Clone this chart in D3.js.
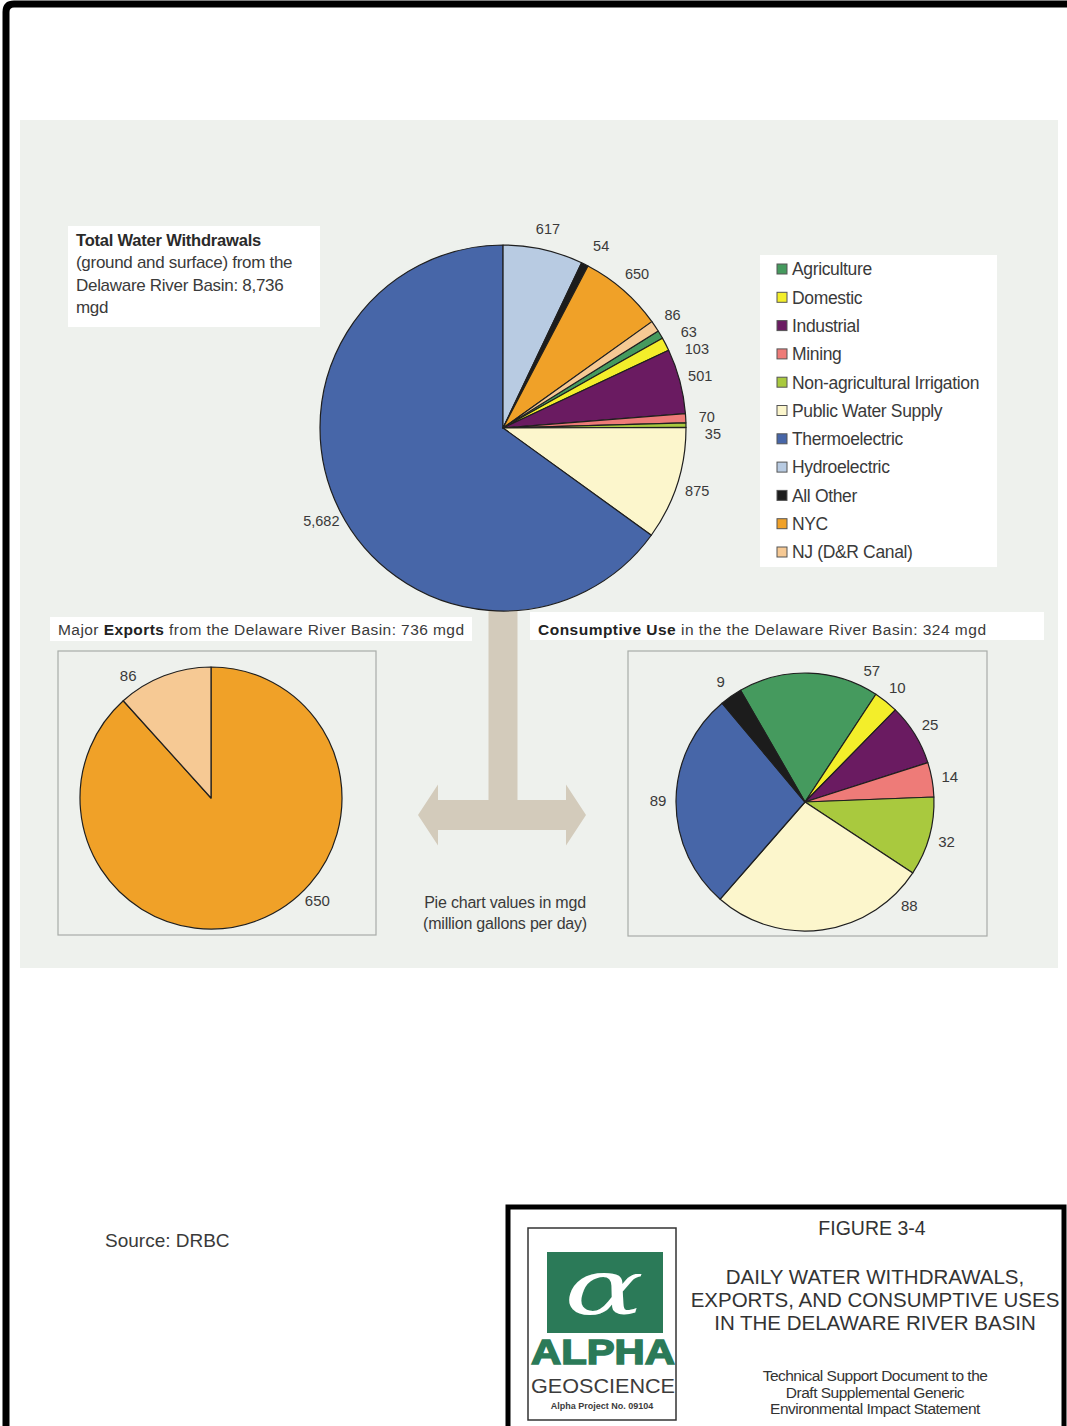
<!DOCTYPE html>
<html>
<head>
<meta charset="utf-8">
<script src="https://cdn.jsdelivr.net/npm/d3@7"></script>
<style>
  body { margin: 0; background: #fff; }
  svg { display: block; font-family: "Liberation Sans", Arial, sans-serif; }
</style>
</head>
<body>
<svg id="fig" width="1067" height="1426"></svg>
<script>
// categories in legend order (same order drives every pie)
var categories = ["Agriculture", "Domestic", "Industrial", "Mining",
  "Non-agricultural Irrigation", "Public Water Supply", "Thermoelectric",
  "Hydroelectric", "All Other", "NYC", "NJ (D&R Canal)"];
var catColors = ["#459a5e", "#f3ee2a", "#6a1b61", "#ee7b78", "#a9c93e",
  "#fcf6cc", "#4766a8", "#b8cbe2", "#1c1c1c", "#f0a128", "#f6c994"];

// mgd values
var withdrawals = [63, 103, 501, 70, 35, 875, 5682, 617, 54, 650, 86];
var exportsMgd = [0, 0, 0, 0, 0, 0, 0, 0, 0, 650, 86];
var consumptive = [57, 10, 25, 14, 32, 88, 89, 0, 9, 0, 0];

var svg = d3.select("#fig");
var fmt = d3.format(",");
var rad = Math.PI / 180;

// outer frame (top + left edges visible)
svg.append("path")
  .attr("d", "M6,1426 V12 Q6,4 14,4 H1067")
  .attr("fill", "none")
  .attr("stroke", "#000")
  .attr("stroke-width", 7);

// light panel behind the charts
svg.append("rect")
  .attr("x", 20).attr("y", 120)
  .attr("width", 1038).attr("height", 848)
  .attr("fill", "#eef1ed");

// T-shaped arrow between the charts
var ar = { cx: 503, top: 608, stem: 29, barY: 800, barH: 30, left: 418, right: 586, head: 20, headH: 61 };
var arrowPts = [
  [ar.cx - ar.stem / 2, ar.top], [ar.cx + ar.stem / 2, ar.top],
  [ar.cx + ar.stem / 2, ar.barY], [ar.right - ar.head, ar.barY],
  [ar.right - ar.head, ar.barY + ar.barH / 2 - ar.headH / 2],
  [ar.right, ar.barY + ar.barH / 2],
  [ar.right - ar.head, ar.barY + ar.barH / 2 + ar.headH / 2],
  [ar.right - ar.head, ar.barY + ar.barH], [ar.left + ar.head, ar.barY + ar.barH],
  [ar.left + ar.head, ar.barY + ar.barH / 2 + ar.headH / 2],
  [ar.left, ar.barY + ar.barH / 2],
  [ar.left + ar.head, ar.barY + ar.barH / 2 - ar.headH / 2],
  [ar.left + ar.head, ar.barY], [ar.cx - ar.stem / 2, ar.barY]
];
svg.append("path")
  .attr("d", d3.line()(arrowPts) + "Z")
  .attr("fill", "#d3cbbb");

// generic pie with outside value labels; labels slide along their slice
// to stay inside the framing box, and crowded ones are spread vertically
function drawPie(opt) {
  var data = opt.values.map(function (v, i) {
    return { cat: categories[i], value: v, color: catColors[i] };
  }).filter(function (d) { return d.value > 0; });

  var pie = d3.pie()
    .sort(null)
    .value(function (d) { return d.value; })
    .startAngle(opt.start * rad)
    .endAngle(opt.start * rad + 2 * Math.PI);

  var arc = d3.arc().innerRadius(0).outerRadius(opt.r);
  var g = svg.append("g")
    .attr("transform", "translate(" + opt.cx + "," + opt.cy + ")");

  var arcs = pie(data);
  g.selectAll("path.slice")
    .data(arcs)
    .enter()
    .append("path")
    .attr("class", "slice")
    .attr("d", arc)
    .attr("fill", function (d) { return d.data.color; })
    .attr("stroke", "#1f1f1f")
    .attr("stroke-width", 1.2)
    .attr("stroke-linejoin", "round");

  function fits(a) {
    if (!opt.box) return true;
    var y = opt.cy - opt.lr * Math.cos(a);
    return y >= opt.box.y + opt.padTop && y <= opt.box.y + opt.box.h - opt.padBottom;
  }

  // initial label spots
  arcs.forEach(function (d) {
    var mid = (d.startAngle + d.endAngle) / 2, best = mid;
    if (!fits(mid)) {
      var bestDist = Infinity;
      for (var a = d.startAngle; a <= d.endAngle; a += 0.005) {
        if (fits(a) && Math.abs(a - mid) < bestDist) { bestDist = Math.abs(a - mid); best = a; }
      }
    }
    d.lx = opt.lr * Math.sin(best);
    d.ly = -opt.lr * Math.cos(best);
  });

  // spread crowded labels on each side
  if (opt.gap) {
    [1, -1].forEach(function (side) {
      var grp = arcs.filter(function (d) { return Math.sign(d.lx) === side; })
        .sort(function (a, b) { return a.ly - b.ly; });
      for (var i = 1; i < grp.length; i++) {
        if (grp[i].ly < grp[i - 1].ly + opt.gap) {
          grp[i].ly = grp[i - 1].ly + opt.gap;
          var h = Math.min(Math.abs(grp[i].ly), opt.lr);
          grp[i].lx = side * (Math.sqrt(opt.lr * opt.lr - h * h) + 6);
        }
      }
    });
  }

  g.selectAll("text.val")
    .data(arcs)
    .enter()
    .append("text")
    .attr("class", "val")
    .attr("x", function (d) { return d.lx; })
    .attr("y", function (d) { return d.ly; })
    .attr("dy", "0.35em")
    .attr("text-anchor", "middle")
    .attr("font-size", opt.fs)
    .attr("fill", "#3a3a3a")
    .text(function (d) { return fmt(d.data.value); });
}

// ---- main pie: total withdrawals
drawPie({ values: withdrawals, cx: 503, cy: 428, r: 183, start: 58, lr: 204, fs: 14.5, gap: 17 });

// title box for the main pie
var tb = svg.append("g");
tb.append("rect")
  .attr("x", 68).attr("y", 226).attr("width", 252).attr("height", 101)
  .attr("fill", "#fff");
var tLines = ["(ground and surface) from the", "Delaware River Basin: 8,736", "mgd"];
tb.append("text")
  .attr("x", 76).attr("y", 246)
  .attr("font-size", 16.5).attr("font-weight", "bold").attr("fill", "#2a2a2a")
  .attr("letter-spacing", -0.2)
  .text("Total Water Withdrawals");
tb.selectAll("text.tl")
  .data(tLines)
  .enter()
  .append("text")
  .attr("class", "tl")
  .attr("x", 76)
  .attr("y", function (d, i) { return 268 + i * 22.5; })
  .attr("font-size", 17).attr("fill", "#3a3a3a")
  .attr("letter-spacing", -0.3)
  .text(function (d) { return d; });

// legend
var lg = svg.append("g");
lg.append("rect")
  .attr("x", 760).attr("y", 255).attr("width", 237).attr("height", 312)
  .attr("fill", "#fff");
var item = lg.selectAll("g.item")
  .data(categories)
  .enter()
  .append("g")
  .attr("class", "item")
  .attr("transform", function (d, i) { return "translate(777," + (269 + i * 28.3) + ")"; });
item.append("rect")
  .attr("x", 0).attr("y", -5).attr("width", 10).attr("height", 10)
  .attr("fill", function (d, i) { return catColors[i]; })
  .attr("stroke", "#555").attr("stroke-width", 1);
item.append("text")
  .attr("x", 15).attr("dy", "0.36em")
  .attr("font-size", 17.5).attr("fill", "#3a3a3a")
  .attr("letter-spacing", -0.35)
  .text(function (d) { return d; });

// ---- exports
svg.append("rect")
  .attr("x", 50).attr("y", 617).attr("width", 422).attr("height", 24)
  .attr("fill", "#fff");
var et = svg.append("text")
  .attr("x", 58).attr("y", 635)
  .attr("textLength", 406).attr("lengthAdjust", "spacing")
  .attr("font-size", 15.5).attr("fill", "#3a3a3a");
et.append("tspan").text("Major ");
et.append("tspan").attr("font-weight", "bold").attr("fill", "#222").text("Exports");
et.append("tspan").text(" from the Delaware River Basin: 736 mgd");

var exBox = { x: 58, y: 651, w: 318, h: 284 };
svg.append("rect")
  .attr("x", exBox.x).attr("y", exBox.y).attr("width", exBox.w).attr("height", exBox.h)
  .attr("fill", "none").attr("stroke", "#a8aca8").attr("stroke-width", 1.2);
drawPie({ values: exportsMgd, cx: 211, cy: 798, r: 131, start: 0, lr: 148, fs: 15,
  box: exBox, padTop: 24, padBottom: 34 });

// ---- consumptive use
svg.append("rect")
  .attr("x", 530).attr("y", 612).attr("width", 514).attr("height", 28)
  .attr("fill", "#fff");
var ct = svg.append("text")
  .attr("x", 538).attr("y", 635)
  .attr("textLength", 448).attr("lengthAdjust", "spacing")
  .attr("font-size", 15.5).attr("fill", "#3a3a3a");
ct.append("tspan").attr("font-weight", "bold").attr("fill", "#222").text("Consumptive Use");
ct.append("tspan").text(" in the the Delaware River Basin: 324 mgd");

var cuBox = { x: 628, y: 651, w: 359, h: 285 };
svg.append("rect")
  .attr("x", cuBox.x).attr("y", cuBox.y).attr("width", cuBox.w).attr("height", cuBox.h)
  .attr("fill", "none").attr("stroke", "#a8aca8").attr("stroke-width", 1.2);
drawPie({ values: consumptive, cx: 805, cy: 802, r: 129, start: -30, lr: 147, fs: 15,
  box: cuBox, padTop: 20, padBottom: 30 });

// note under the arrow
svg.selectAll("text.note")
  .data(["Pie chart values in mgd", "(million gallons per day)"])
  .enter()
  .append("text")
  .attr("class", "note")
  .attr("x", 505)
  .attr("y", function (d, i) { return 908 + i * 21; })
  .attr("text-anchor", "middle")
  .attr("font-size", 16).attr("fill", "#3a3a3a")
  .attr("letter-spacing", -0.2)
  .text(function (d) { return d; });

// source
svg.append("text")
  .attr("x", 105).attr("y", 1247)
  .attr("font-size", 19).attr("fill", "#3a3a3a")
  .text("Source: DRBC");

// ---- title block
var tbk = svg.append("g");
tbk.append("path")
  .attr("d", "M508,1426 V1207 H1064 V1426")
  .attr("fill", "#fff").attr("stroke", "#000").attr("stroke-width", 5);
tbk.append("rect")
  .attr("x", 528).attr("y", 1228).attr("width", 148).attr("height", 192)
  .attr("fill", "#fff").attr("stroke", "#333").attr("stroke-width", 1.5);
tbk.append("rect")
  .attr("x", 547).attr("y", 1252).attr("width", 116).attr("height", 81)
  .attr("fill", "#2b7a58");
tbk.append("text")
  .attr("transform", "translate(604,1314) scale(1.55,1)")
  .attr("text-anchor", "middle")
  .attr("font-family", "'DejaVu Serif', 'Liberation Serif', serif")
  .attr("font-style", "italic")
  .attr("font-size", 76).attr("fill", "#fff")
  .text("\u03B1");
tbk.append("text")
  .attr("x", 531).attr("y", 1364)
  .attr("textLength", 144).attr("lengthAdjust", "spacingAndGlyphs")
  .attr("font-family", "'Liberation Sans', Arial, sans-serif")
  .attr("font-weight", "bold").attr("font-size", 35).attr("fill", "#2b7a58")
  .attr("stroke", "#2b7a58").attr("stroke-width", 1.5)
  .text("ALPHA");
tbk.append("text")
  .attr("x", 531).attr("y", 1393)
  .attr("textLength", 144).attr("lengthAdjust", "spacingAndGlyphs")
  .attr("font-family", "'Liberation Sans', Arial, sans-serif")
  .attr("font-size", 21).attr("fill", "#3c3c3c")
  .text("GEOSCIENCE");
tbk.append("text")
  .attr("x", 602).attr("y", 1409)
  .attr("text-anchor", "middle")
  .attr("font-weight", "bold").attr("font-size", 9).attr("fill", "#3c3c3c")
  .text("Alpha Project No. 09104");

tbk.append("text")
  .attr("x", 872).attr("y", 1235)
  .attr("text-anchor", "middle")
  .attr("font-size", 19.5).attr("fill", "#333")
  .text("FIGURE 3-4");
tbk.selectAll("text.ttl")
  .data(["DAILY WATER WITHDRAWALS,", "EXPORTS, AND CONSUMPTIVE USES", "IN THE DELAWARE RIVER BASIN"])
  .enter()
  .append("text")
  .attr("class", "ttl")
  .attr("x", 875)
  .attr("y", function (d, i) { return 1284 + i * 23; })
  .attr("text-anchor", "middle")
  .attr("font-size", 20.5).attr("fill", "#333")
  .text(function (d) { return d; });
tbk.selectAll("text.sub")
  .data(["Technical Support Document to the", "Draft Supplemental Generic", "Environmental Impact Statement"])
  .enter()
  .append("text")
  .attr("class", "sub")
  .attr("x", 875)
  .attr("y", function (d, i) { return 1381 + i * 16.5; })
  .attr("text-anchor", "middle")
  .attr("font-size", 15.5).attr("fill", "#333")
  .attr("letter-spacing", -0.5)
  .text(function (d) { return d; });
</script>
</body>
</html>
